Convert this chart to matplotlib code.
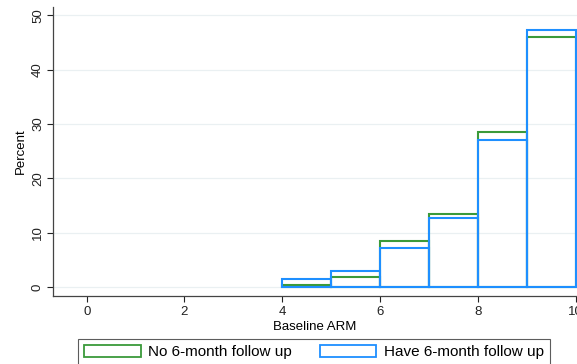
import numpy as np
import matplotlib
matplotlib.use('Agg')
import matplotlib.pyplot as plt
from matplotlib.patches import Patch

plt.rcParams['font.family'] = ['Liberation Sans', 'DejaVu Sans']

# histogram bins of baseline ARM (width 1) and percent in each group
bin_left = [4, 5, 6, 7, 8, 9]
pct_no_followup = [0.3, 1.9, 8.5, 13.4, 28.5, 46.0]
pct_have_followup = [1.5, 2.9, 7.2, 12.7, 27.1, 47.2]
xticks = [0, 2, 4, 6, 8, 10]
yticks = [0, 10, 20, 30, 40, 50]

green = '#3a9a3a'
blue = '#1e8fff'

fig = plt.figure(figsize=(5.77, 3.64), dpi=100)
ax = fig.add_axes([53 / 577, 68 / 364, 524 / 577, 289 / 364])

ax.bar(bin_left, pct_no_followup, width=1, align='edge', fill=False,
       edgecolor=green, linewidth=1.5, zorder=3)
ax.bar(bin_left, pct_have_followup, width=1, align='edge', fill=False,
       edgecolor=blue, linewidth=1.5, zorder=4)

ax.set_xlim(-0.69, 10.03)
ax.set_ylim(-1.65, 51.5)
ax.set_xticks(xticks)
ax.set_yticks(yticks)
ax.set_yticklabels([str(v) for v in yticks], rotation=90, va='center')
ax.tick_params(colors='#222222', labelsize=9.5, length=4, width=0.8)
ax.tick_params(axis='y', pad=2.5)
for y in yticks:
    ax.axhline(y, color='#eaf0f2', linewidth=0.9, zorder=1)

for side in ['top', 'right']:
    ax.spines[side].set_visible(False)
for side in ['left', 'bottom']:
    ax.spines[side].set_color('#444444')
    ax.spines[side].set_linewidth(0.9)

ax.set_xlabel('Baseline ARM', fontsize=9.5, labelpad=1.5)
ax.set_ylabel('Percent', fontsize=9.5, labelpad=4)

handles = [Patch(facecolor='white', edgecolor=green, linewidth=1.3),
           Patch(facecolor='white', edgecolor=blue, linewidth=1.3)]
leg = fig.legend(handles, ['No 6-month follow up', 'Have 6-month follow up'],
                 loc='upper left', bbox_to_anchor=(78 / 577, 25 / 364),
                 ncol=2, fontsize=11, frameon=True, fancybox=False,
                 handlelength=3.7, handleheight=0.8, columnspacing=1.8,
                 borderpad=0.4, borderaxespad=0, handletextpad=0.5)
leg.get_frame().set_edgecolor('#333333')
leg.get_frame().set_linewidth(0.8)

fig.savefig('out.png', dpi=100)
